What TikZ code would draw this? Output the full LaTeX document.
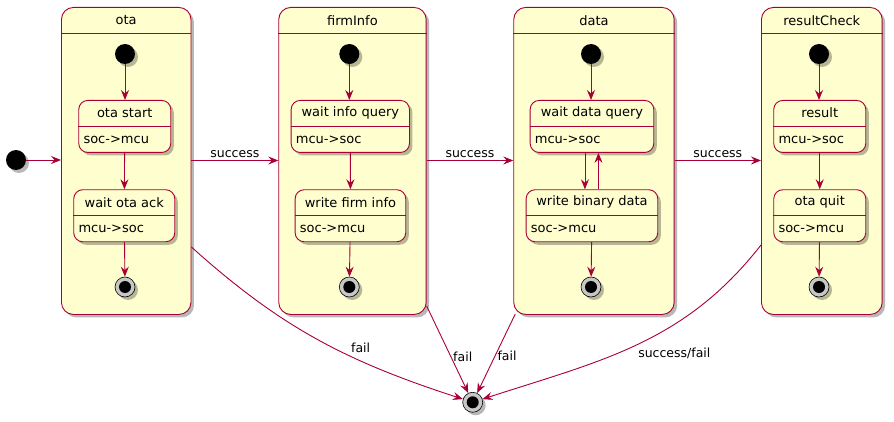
\documentclass[tikz,border=0pt]{standalone}
\usepackage{fontspec}
\setmainfont{DejaVu Sans}
\usetikzlibrary{arrows.meta,shadows,calc}
\definecolor{pred}{HTML}{A80036}
\definecolor{pfill}{HTML}{FEFECE}
\begin{document}
\begin{tikzpicture}[x=1pt,y=-1pt,
  shd/.style={drop shadow={shadow xshift=3pt,shadow yshift=-3pt,opacity=0.28,fill=black}},
  comp/.style={draw=pred,fill=pfill,line width=0.9pt,rounded corners=12pt,anchor=north west,inner sep=0pt,shd},
  sst/.style={draw=pred,fill=pfill,line width=0.9pt,rounded corners=9pt,anchor=north west,inner sep=0pt,minimum height=52,shd},
  ttl/.style={font=\fontsize{13}{15}\selectfont,inner sep=0pt},
  bdy/.style={font=\fontsize{13}{15}\selectfont,inner sep=0pt,anchor=west},
  lbl/.style={font=\fontsize{12.5}{15}\selectfont,inner sep=2pt},
  sep/.style={draw=pred,line width=0.9pt},
  arr/.style={draw=pred,line width=0.9pt,-{Stealth[length=10pt,width=8pt,inset=3.5pt]}},
  ini/.style={circle,fill=black,minimum size=20,inner sep=0pt,shd},
  fin/.style={circle,draw=black,fill=black!22,minimum size=20,inner sep=0pt,line width=0.6pt,shd,
    path picture={\fill[black] (path picture bounding box.center) circle (6pt);}},
]
\useasboundingbox (0,0) rectangle (894,422);

% composite states
\node[comp,minimum width=129.5,minimum height=307] (ota) at (61,7) {};
\node[comp,minimum width=147.4,minimum height=307] (firm) at (278.3,7) {};
\node[comp,minimum width=160.4,minimum height=307] (data) at (513.3,7) {};
\node[comp,minimum width=120.7,minimum height=307] (rc) at (761,7) {};
\foreach \c/\t in {ota/ota,firm/firmInfo,data/data,rc/resultCheck}{
  \draw[sep] (\c.west |- 0,33.3) -- (\c.east |- 0,33.3);
  \node[ttl] at (\c.north |- 0,20.5) {\t};
}

% simple states
\node[sst,minimum width=92]    (s1) at (78.3,100) {};
\node[sst,minimum width=101]   (s2) at (73.3,189.3) {};
\node[sst,minimum width=118.3] (f1) at (290.7,100) {};
\node[sst,minimum width=110.6] (f2) at (294.7,189.3) {};
\node[sst,minimum width=123.6] (d1) at (529.7,100) {};
\node[sst,minimum width=131.6] (d2) at (525.7,189.3) {};
\node[sst,minimum width=92]    (r1) at (773.3,100) {};
\node[sst,minimum width=92]    (r2) at (773.3,189.3) {};
\foreach \s/\t/\b in {s1/ota start/soc->mcu, s2/wait ota ack/mcu->soc,
  f1/wait info query/mcu->soc, f2/write firm info/soc->mcu,
  d1/wait data query/mcu->soc, d2/write binary data/soc->mcu,
  r1/result/mcu->soc, r2/ota quit/soc->mcu}{
  \draw[sep] ($(\s.north west)+(0,26.5)$) -- ($(\s.north east)+(0,26.5)$);
  \node[ttl] at ($(\s.north)+(0,13)$) {\t};
  \node[bdy] at ($(\s.north west)+(5,40)$) {\b};
}

% initial / final pseudo states
\node[ini] (start) at (16,160) {};
\node[ini] (oi) at (125,54) {};
\node[ini] (fi) at (349.3,54) {};
\node[ini] (di) at (591,54) {};
\node[ini] (ri) at (819,54) {};
\node[fin] (oe) at (125,287) {};
\node[fin] (fe) at (349.3,287) {};
\node[fin] (de) at (591,287) {};
\node[fin] (re) at (819,287) {};
\node[fin] (end) at (472.7,402.3) {};

% inner transitions
\draw[arr] (oi) -- (oi |- s1.north);
\draw[arr] (s1) -- (s2);
\draw[arr] (s2) -- (oe);
\draw[arr] (fi) -- (fi |- f1.north);
\draw[arr] (f1) -- (f2);
\draw[arr] (f2) -- (fe);
\draw[arr] (di) -- (di |- d1.north);
\draw[arr] ([xshift=-7pt]d1.south) -- ([xshift=-7pt]d2.north);
\draw[arr] ([xshift=6.5pt]d2.north) -- ([xshift=6.5pt]d1.south);
\draw[arr] (d2) -- (de);
\draw[arr] (ri) -- (ri |- r1.north);
\draw[arr] (r1) -- (r2);
\draw[arr] (r2) -- (re);

% outer transitions
\draw[arr] (start) -- (ota.west |- start);
\draw[arr] (ota.east |- 0,160.5) -- node[lbl,above]{success} (firm.west |- 0,160.5);
\draw[arr] (firm.east |- 0,160.5) -- node[lbl,above]{success} (data.west |- 0,160.5);
\draw[arr] (data.east |- 0,160.5) -- node[lbl,above]{success} (rc.west |- 0,160.5);

\draw[arr] (ota.east |- 0,247) to[out=-42,in=162] node[lbl,pos=0.62,above right=0pt]{fail} (end);
\draw[arr] ([yshift=9pt]firm.south east) -- node[lbl,pos=0.58,right]{fail} (end);
\draw[arr] ([xshift=2pt,yshift=1pt]data.south west) -- node[lbl,pos=0.53,right]{fail} (end);
\draw[arr] (rc.west |- 0,245) to[out=-128,in=18] node[lbl,pos=0.45,anchor=north west,xshift=-15pt,yshift=-8pt]{success/fail} (end);
\end{tikzpicture}
\end{document}
